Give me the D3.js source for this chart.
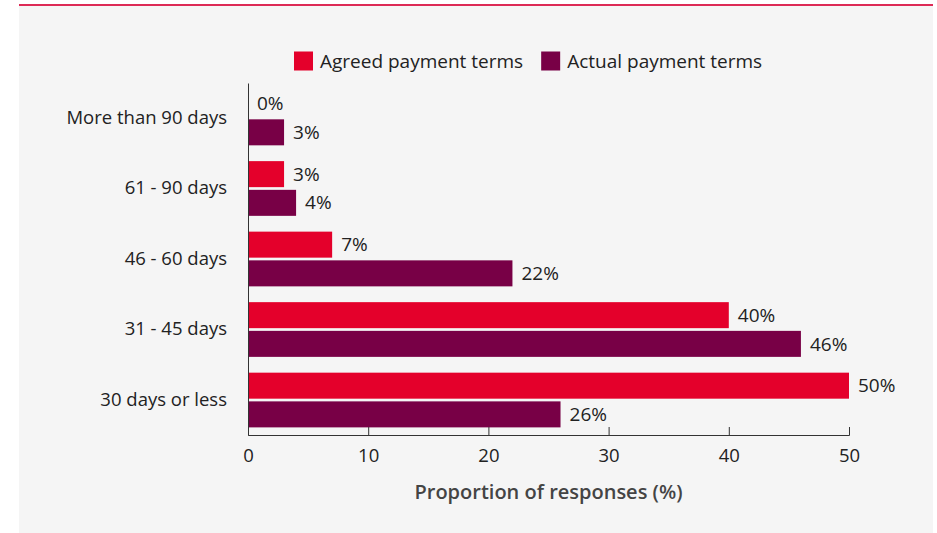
<!DOCTYPE html>
<html>
<head>
<meta charset="utf-8">
<script src="https://cdn.jsdelivr.net/npm/d3@7"></script>
<style>
  html, body { margin: 0; padding: 0; background: #ffffff; }
  svg { display: block; font-family: "Open Sans", "Noto Sans", sans-serif; }
</style>
</head>
<body>
<svg id="chart" width="937" height="533"></svg>
<script>
// Payment terms: share of responses by term length
const categories = ["More than 90 days", "61 - 90 days", "46 - 60 days", "31 - 45 days", "30 days or less"];
const seriesNames = ["Agreed payment terms", "Actual payment terms"];
const agreed = [0, 3, 7, 40, 50];
const actual = [3, 4, 22, 46, 26];
const xTicks = [0, 10, 20, 30, 40, 50];
const axisTitle = "Proportion of responses (%)";

const colors = { "Agreed payment terms": "#e4002b", "Actual payment terms": "#780046" };
const FONT = "'Open Sans', 'Noto Sans', sans-serif";

const svg = d3.select("#chart");
const W = 937, H = 533;

// page frame: accent rule and grey panel
svg.append("rect").attr("x", 19).attr("y", 6).attr("width", 914).attr("height", H - 6).attr("fill", "#f5f5f5");
svg.append("rect").attr("x", 19).attr("y", 4).attr("width", 914).attr("height", 2).attr("fill", "#dd2a56");

const plot = { left: 248, right: 849, top: 83, bottom: 435 };

const x = d3.scaleLinear().domain([0, 50]).range([plot.left, plot.right]);
const y = d3.scaleBand().domain(categories).range([plot.top, plot.bottom])
  .paddingInner(0.224).paddingOuter(0.108);
const ySub = d3.scaleBand().domain(seriesNames).range([0, y.bandwidth()]).paddingInner(0.094);

const rows = categories.map((c, i) => ({ cat: c, values: [
  { name: seriesNames[0], value: agreed[i] },
  { name: seriesNames[1], value: actual[i] }
]}));

const g = svg.append("g");
const groups = g.selectAll("g.grp").data(rows).join("g")
  .attr("class", "grp")
  .attr("transform", d => `translate(0,${y(d.cat)})`);

groups.selectAll("rect").data(d => d.values).join("rect")
  .attr("x", x(0))
  .attr("y", d => ySub(d.name))
  .attr("width", d => x(d.value) - x(0))
  .attr("height", ySub.bandwidth())
  .attr("fill", d => colors[d.name]);

groups.selectAll("text.val").data(d => d.values).join("text")
  .attr("class", "val")
  .attr("x", d => x(d.value) + 9)
  .attr("y", d => ySub(d.name) + ySub.bandwidth() / 2)
  .attr("dy", "0.35em")
  .attr("font-size", 19)
  .attr("fill", "#222")
  .text(d => d.value + "%");

// x axis with ticks pointing into the plot
const xAxis = svg.append("g")
  .attr("transform", `translate(0,${plot.bottom})`)
  .call(d3.axisBottom(x).tickValues(xTicks).tickSize(-8).tickSizeOuter(-8).tickPadding(14))
  .attr("font-family", FONT).attr("font-size", 18.5);
xAxis.select(".domain").attr("stroke", "#333");
xAxis.selectAll(".tick line").attr("stroke", "#333");
xAxis.selectAll(".tick text").attr("fill", "#222");

// y axis: line only, category labels
const yAxis = svg.append("g")
  .attr("transform", `translate(${plot.left},0)`)
  .call(d3.axisLeft(y).tickSize(0).tickSizeOuter(0).tickPadding(21))
  .attr("font-family", FONT).attr("font-size", 18.5);
yAxis.select(".domain").attr("stroke", "#333");
yAxis.selectAll(".tick text").attr("fill", "#222");

svg.append("text")
  .attr("x", (plot.left + plot.right) / 2)
  .attr("y", 492)
  .attr("dy", "0.35em")
  .attr("text-anchor", "middle")
  .attr("font-size", 20)
  .attr("font-weight", 600)
  .attr("fill", "#444")
  .text(axisTitle);

// legend
const legend = svg.append("g").attr("transform", "translate(294,61)");
let lx = 0;
seriesNames.forEach(name => {
  const item = legend.append("g").attr("transform", `translate(${lx},0)`);
  item.append("rect").attr("x", 0).attr("y", -9.5).attr("width", 19).attr("height", 19).attr("fill", colors[name]);
  const t = item.append("text").attr("x", 26).attr("dy", "0.35em").attr("font-size", 19).attr("fill", "#222").text(name);
  lx += 26 + t.node().getComputedTextLength() + 18;
});
</script>
</body>
</html>
